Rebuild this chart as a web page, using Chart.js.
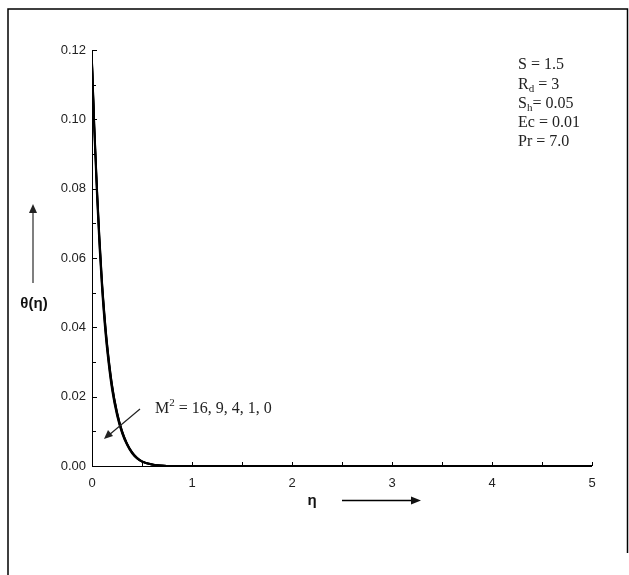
<!DOCTYPE html>
<html>
<head>
<meta charset="utf-8">
<script src="https://cdn.jsdelivr.net/npm/chart.js@4/dist/chart.umd.min.js"></script>
<style>
  html, body { margin: 0; padding: 0; background: #fff; }
  #wrap { position: relative; width: 629px; height: 575px; }
</style>
</head>
<body>
<div id="wrap"><canvas id="chartTheta" width="629" height="575"></canvas></div>
<script>
// ── Données ─────────────────────────────────────────────────
const eta       = [0, 0.025, 0.05, 0.075, 0.1, 0.125, 0.15, 0.2, 0.25, 0.3, 0.35, 0.4, 0.45, 0.5, 0.6, 0.7, 0.8, 1, 2, 3, 4, 5];
const thetaM0   = [0.118, 0.098, 0.081, 0.0665, 0.0540, 0.0442, 0.0360, 0.0238, 0.0158, 0.0103, 0.0066, 0.0041, 0.0024, 0.0014, 0.0005, 0.0001, 0, 0, 0, 0, 0, 0];
const thetaM1   = [0.118, 0.0975, 0.0805, 0.0660, 0.0536, 0.0438, 0.0357, 0.0236, 0.0156, 0.0102, 0.0065, 0.0040, 0.0024, 0.0014, 0.0005, 0.0001, 0, 0, 0, 0, 0, 0];
const thetaM4   = [0.1175, 0.0965, 0.0795, 0.0650, 0.0528, 0.0430, 0.0350, 0.0231, 0.0153, 0.0100, 0.0064, 0.0039, 0.0023, 0.0013, 0.0004, 0.0001, 0, 0, 0, 0, 0, 0];
const thetaM9   = [0.117, 0.0955, 0.0782, 0.0638, 0.0517, 0.0421, 0.0342, 0.0225, 0.0149, 0.0097, 0.0062, 0.0038, 0.0022, 0.0012, 0.0004, 0.0001, 0, 0, 0, 0, 0, 0];
const thetaM16  = [0.116, 0.0940, 0.0767, 0.0624, 0.0505, 0.0410, 0.0333, 0.0218, 0.0144, 0.0094, 0.0060, 0.0036, 0.0021, 0.0012, 0.0004, 0.0001, 0, 0, 0, 0, 0, 0];
const seriesList = [thetaM16, thetaM9, thetaM4, thetaM1, thetaM0];

const xTicks = [0, 1, 2, 3, 4, 5];
const yTicks = [0, 0.02, 0.04, 0.06, 0.08, 0.10, 0.12];

const TICK_FONT = { family: 'Liberation Sans, Arial, sans-serif', size: 13 };
const SERIF = 'Liberation Serif, "Times New Roman", serif';

// ── Décor : cadre, graduations internes, annotations ───────
const decor = {
  id: 'decor',
  afterDraw(chart) {
    const { ctx, scales: { x, y }, chartArea: a } = chart;
    ctx.save();
    ctx.strokeStyle = '#000';

    // cadre de la figure
    ctx.lineWidth = 1.5;
    ctx.beginPath();
    ctx.moveTo(8, 575); ctx.lineTo(8, 9); ctx.lineTo(627.5, 9); ctx.lineTo(627.5, 553);
    ctx.stroke();

    // axes
    ctx.lineWidth = 1;
    ctx.beginPath();
    ctx.moveTo(a.left + 0.5, a.top); ctx.lineTo(a.left + 0.5, a.bottom + 0.5); ctx.lineTo(a.right, a.bottom + 0.5);
    ctx.stroke();

    // graduations vers l'intérieur
    ctx.beginPath();
    for (let i = 0; i <= 12; i++) {
      const py = Math.round(y.getPixelForValue(i / 100)) + 0.5;
      ctx.moveTo(a.left, py); ctx.lineTo(a.left + (i % 2 ? 4 : 5), py);
    }
    for (let i = 0; i <= 10; i++) {
      const px = Math.round(x.getPixelForValue(i / 2)) + 0.5;
      ctx.moveTo(px, a.bottom); ctx.lineTo(px, a.bottom - 4);
    }
    ctx.stroke();

    // titre axe y + flèche
    ctx.fillStyle = '#111';
    ctx.font = 'bold 15px Liberation Sans, Arial, sans-serif';
    ctx.textAlign = 'center';
    ctx.textBaseline = 'alphabetic';
    ctx.fillText('θ(η)', 34, 308);
    ctx.strokeStyle = '#555';
    ctx.fillStyle = '#222';
    ctx.lineWidth = 1.5;
    ctx.beginPath(); ctx.moveTo(33, 283); ctx.lineTo(33, 212); ctx.stroke();
    ctx.beginPath(); ctx.moveTo(33, 204); ctx.lineTo(29, 213); ctx.lineTo(37, 213); ctx.closePath(); ctx.fill();

    // titre axe x + flèche
    ctx.fillStyle = '#111';
    ctx.fillText('η', 312, 505);
    ctx.strokeStyle = '#000';
    ctx.beginPath(); ctx.moveTo(342, 500.5); ctx.lineTo(412, 500.5); ctx.stroke();
    ctx.beginPath(); ctx.moveTo(421, 500.5); ctx.lineTo(411, 496.5); ctx.lineTo(411, 504.5); ctx.closePath(); ctx.fill();

    // annotation M²
    ctx.textAlign = 'left';
    ctx.fillStyle = '#222';
    ctx.font = '16px ' + SERIF;
    ctx.fillText('M', 155, 413);
    let w = ctx.measureText('M').width;
    ctx.font = '11px ' + SERIF;
    ctx.fillText('2', 155 + w, 406);
    w += ctx.measureText('2').width;
    ctx.font = '16px ' + SERIF;
    ctx.fillText(' = 16, 9, 4, 1, 0', 155 + w, 413);
    ctx.strokeStyle = '#222';
    ctx.lineWidth = 1.2;
    ctx.beginPath(); ctx.moveTo(140, 409); ctx.lineTo(109, 435); ctx.stroke();
    ctx.beginPath(); ctx.moveTo(104, 439); ctx.lineTo(108, 430); ctx.lineTo(113, 436); ctx.closePath(); ctx.fill();

    // bloc des paramètres
    const px0 = 518;
    const line = (parts, yb) => {
      let cx = px0;
      parts.forEach(([t, sub]) => {
        ctx.font = (sub ? '11px ' : '16px ') + SERIF;
        ctx.fillText(t, cx, sub ? yb + 3 : yb);
        cx += ctx.measureText(t).width;
      });
    };
    line([['S = 1.5']], 69);
    line([['R'], ['d', 1], [' = 3']], 89);
    line([['S'], ['h', 1], ['= 0.05']], 108);
    line([['Ec = 0.01']], 127);
    line([['Pr = 7.0']], 146);

    ctx.restore();
  }
};

new Chart(document.getElementById('chartTheta'), {
  type: 'line',
  data: {
    datasets: seriesList.map(s => ({
      data: eta.map((e, i) => ({ x: e, y: s[i] })),
      borderColor: '#000',
      borderWidth: 1.6,
      pointRadius: 0,
      fill: false,
      cubicInterpolationMode: 'monotone'
    }))
  },
  options: {
    responsive: false,
    animation: false,
    layout: { padding: { left: 40, top: 50, right: 37, bottom: 69 } },
    plugins: { legend: { display: false }, tooltip: { enabled: false } },
    scales: {
      x: {
        type: 'linear', min: 0, max: 5,
        afterBuildTicks: s => { s.ticks = xTicks.map(v => ({ value: v })); },
        afterFit: s => { s.height = 40; },
        grid: { display: false, drawTicks: false },
        border: { display: false },
        ticks: { font: TICK_FONT, color: '#222', padding: 10, maxRotation: 0, callback: v => String(v) }
      },
      y: {
        type: 'linear', min: 0, max: 0.12,
        afterBuildTicks: s => { s.ticks = yTicks.map(v => ({ value: v })); },
        afterFit: s => { s.width = 52; },
        grid: { display: false, drawTicks: false },
        border: { display: false },
        ticks: { font: TICK_FONT, color: '#222', padding: 6, callback: v => v.toFixed(2) }
      }
    }
  },
  plugins: [decor]
});
</script>
</body>
</html>
